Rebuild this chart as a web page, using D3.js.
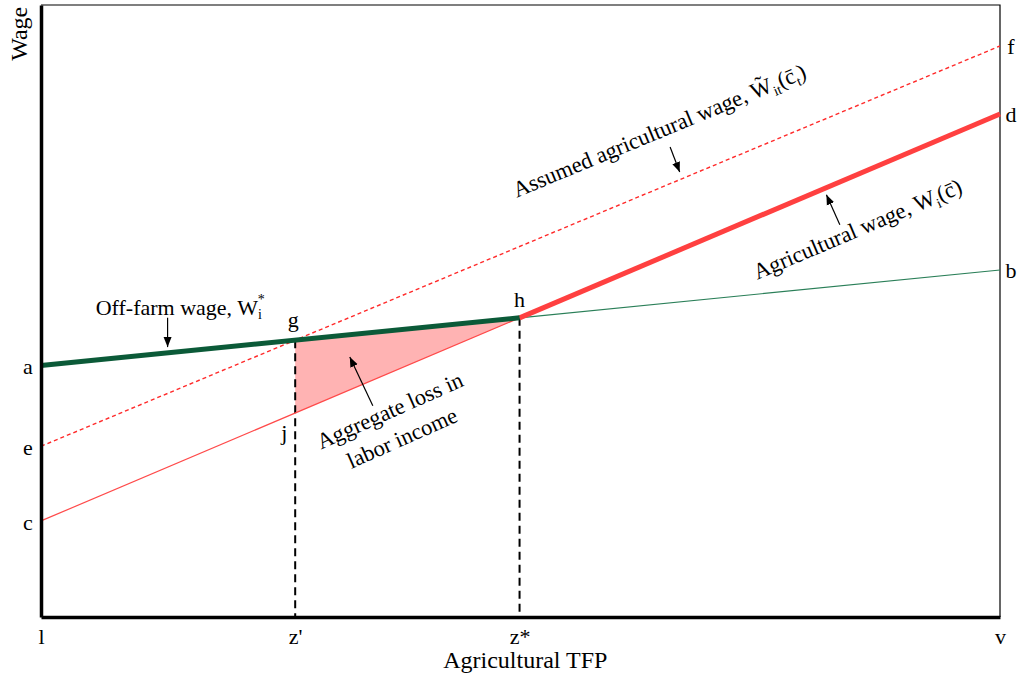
<!DOCTYPE html>
<html>
<head>
<meta charset="utf-8">
<script src="https://cdn.jsdelivr.net/npm/d3@7"></script>
<style>
  body { margin: 0; background: #fff; }
</style>
</head>
<body>
<svg id="chart"></svg>
<script>
// Wage lines, value at TFP = l (left edge) and TFP = v (right edge)
var offFarmWage = [41.1, 56.7];   // a -> b
var agWage = [15.7, 82.2];        // c -> d
var assumedWage = [27.9, 93.3];   // e -> f
var leftNames = ["a", "c", "e"];
var rightNames = ["b", "d", "f"];
var tickNames = ["l", "z'", "z*", "v"];

var serif = '"Liberation Serif", "Times New Roman", serif';

function loadChart() {
    var width = 1017, height = 684;
    var svg = d3.select('#chart').attr('width', width).attr('height', height)
        .style('font-family', serif);

    var x = d3.scaleLinear().domain([0, 100]).range([41, 1000]);
    var y = d3.scaleLinear().domain([0, 100]).range([617, 5]);

    function at(line, t) { return line[0] + (line[1] - line[0]) * t / 100; }
    function cross(l1, l2) {
        var s1 = (l1[1] - l1[0]) / 100, s2 = (l2[1] - l2[0]) / 100;
        return (l2[0] - l1[0]) / (s1 - s2);
    }

    var zPrime = cross(offFarmWage, assumedWage);  // g
    var zStar = cross(offFarmWage, agWage);        // h
    var tickVals = [0, zPrime, zStar, 100];

    var line = d3.line().x(function(d) { return x(d[0]); }).y(function(d) { return y(d[1]); });

    function label(px, py, txt, size) {
        return svg.append('text').attr('x', px).attr('y', py)
            .attr('text-anchor', 'middle').attr('font-size', size || 22)
            .style('font-family', serif).text(txt);
    }

    // shaded loss area g-h-j
    svg.append('path')
        .attr('d', line([[zPrime, at(offFarmWage, zPrime)], [zStar, at(offFarmWage, zStar)], [zPrime, at(agWage, zPrime)]]) + 'Z')
        .attr('fill', '#ffb3b3');

    // frame: thin top and right
    svg.append('path')
        .attr('d', line([[0, 100], [100, 100], [100, 0]]))
        .attr('fill', 'none').attr('stroke', '#000').attr('stroke-width', 1.2);

    // vertical dashed drops
    [zPrime, zStar].forEach(function(t) {
        svg.append('path')
            .attr('d', line([[t, at(offFarmWage, t)], [t, 0]]))
            .attr('stroke', '#000').attr('stroke-width', 2)
            .attr('stroke-dasharray', '8,5');
    });

    // assumed agricultural wage (dashed)
    svg.append('path')
        .attr('d', line([[0, assumedWage[0]], [100, assumedWage[1]]]))
        .attr('stroke', '#ff2a2a').attr('stroke-width', 1.4)
        .attr('stroke-dasharray', '4,3');

    // off-farm wage: thin beyond h, thick up to h
    svg.append('path')
        .attr('d', line([[zStar, at(offFarmWage, zStar)], [100, offFarmWage[1]]]))
        .attr('stroke', '#2a7f58').attr('stroke-width', 1.2);
    // agricultural wage: thin up to h, thick after
    svg.append('path')
        .attr('d', line([[0, agWage[0]], [zStar, at(agWage, zStar)]]))
        .attr('stroke', '#ff4a4a').attr('stroke-width', 1.2);
    svg.append('path')
        .attr('d', line([[zStar, at(agWage, zStar)], [100, agWage[1]]]))
        .attr('stroke', '#ff4040').attr('stroke-width', 5);
    svg.append('path')
        .attr('d', line([[0, offFarmWage[0]], [zStar, at(offFarmWage, zStar)]]))
        .attr('stroke', '#0b5a38').attr('stroke-width', 5);

    // axes
    var xAxis = d3.axisBottom(x).tickValues(tickVals).tickSize(0).tickPadding(11)
        .tickFormat(function(d, i) { return tickNames[i]; });
    var gx = svg.append('g').attr('transform', 'translate(0,' + y(0) + ')').call(xAxis);
    gx.attr('font-family', null).attr('font-size', null);
    gx.select('.domain').attr('stroke', '#000').attr('stroke-width', 3.5);
    gx.selectAll('text').attr('font-size', 22).style('font-family', serif);

    var yAxis = d3.axisLeft(y).tickValues([]).tickSize(0);
    var gy = svg.append('g').attr('transform', 'translate(' + x(0) + ',0)').call(yAxis);
    gy.select('.domain').attr('stroke', '#000').attr('stroke-width', 3.5);

    label(x(50.5), 668, 'Agricultural TFP', 24);
    label(0, 0, 'Wage', 24).attr('transform', 'translate(27,' + y(95.3) + ') rotate(-90)');

    // end point letters
    var leftVals = [offFarmWage[0], agWage[0], assumedWage[0]];
    var rightVals = [offFarmWage[1], agWage[1], assumedWage[1]];
    leftVals.forEach(function(d, i) { label(x(0) - 13, y(d) + 9, leftNames[i]); });
    rightVals.forEach(function(d, i) { label(x(100) + 11, y(d) + 8, rightNames[i]); });

    label(x(zPrime) - 2, y(at(offFarmWage, zPrime)) - 13, 'g');
    label(x(zStar), y(at(offFarmWage, zStar)) - 11, 'h');
    label(x(zPrime) - 11, y(at(agWage, zPrime)) + 27, 'j');

    // annotations
    var offLbl = svg.append('text').attr('x', x(5.7)).attr('y', y(49.3)).attr('font-size', 22)
        .style('font-family', serif);
    offLbl.append('tspan').text('Off-farm wage, W');
    offLbl.append('tspan').attr('font-size', 14).attr('dy', 4).text('i');
    offLbl.append('tspan').attr('font-size', 14).attr('dx', -4).attr('dy', -15).text('*');

    var asLbl = svg.append('text').attr('font-size', 22.5).style('font-family', serif)
        .attr('transform', 'translate(' + x(49.6) + ',' + y(68.5) + ') rotate(-22.5)');
    asLbl.append('tspan').text('Assumed agricultural wage, W\u0303');
    asLbl.append('tspan').attr('font-size', 14).attr('dy', 5).text('it');
    asLbl.append('tspan').attr('dy', -5).text('(c\u0304');
    asLbl.append('tspan').attr('font-size', 14).attr('dy', 5).text('t');
    asLbl.append('tspan').attr('dy', -5).text(')');

    var agLbl = svg.append('text').attr('font-size', 22.5).style('font-family', serif)
        .attr('transform', 'translate(' + x(74.7) + ',' + y(55.1) + ') rotate(-23)');
    agLbl.append('tspan').text('Agricultural wage, W');
    agLbl.append('tspan').attr('font-size', 14).attr('dy', 5).text('i');
    agLbl.append('tspan').attr('dy', -5).text('(c\u0304)');

    var lossLbl = svg.append('text').attr('font-size', 22.5).attr('text-anchor', 'middle')
        .style('font-family', serif)
        .attr('transform', 'translate(' + x(36.7) + ',' + y(32.6) + ') rotate(-24)');
    lossLbl.append('tspan').attr('x', 0).text('Aggregate loss in');
    lossLbl.append('tspan').attr('x', 0).attr('dy', 30).text('labor income');

    // arrows
    svg.append('defs').append('marker')
        .attr('id', 'tip').attr('viewBox', '0 0 10 10').attr('refX', 10).attr('refY', 5)
        .attr('markerWidth', 10).attr('markerHeight', 10).attr('markerUnits', 'userSpaceOnUse')
        .attr('orient', 'auto')
        .append('path').attr('d', 'M0,1L10,5L0,9Z').attr('fill', '#000');
    var arrows = [
        [[13.2, 48.9], [13.2, 44.1]],
        [[65.6, 76.8], [66.6, 72.7]],
        [[83.3, 64.1], [81.9, 69.0]],
        [[34.6, 34.5], [32.2, 42.5]]
    ];
    arrows.forEach(function(a) {
        svg.append('path').attr('d', line(a))
            .attr('stroke', '#000').attr('stroke-width', 1.2)
            .attr('marker-end', 'url(#tip)');
    });
}

window.onload = loadChart;
</script>
</body>
</html>
